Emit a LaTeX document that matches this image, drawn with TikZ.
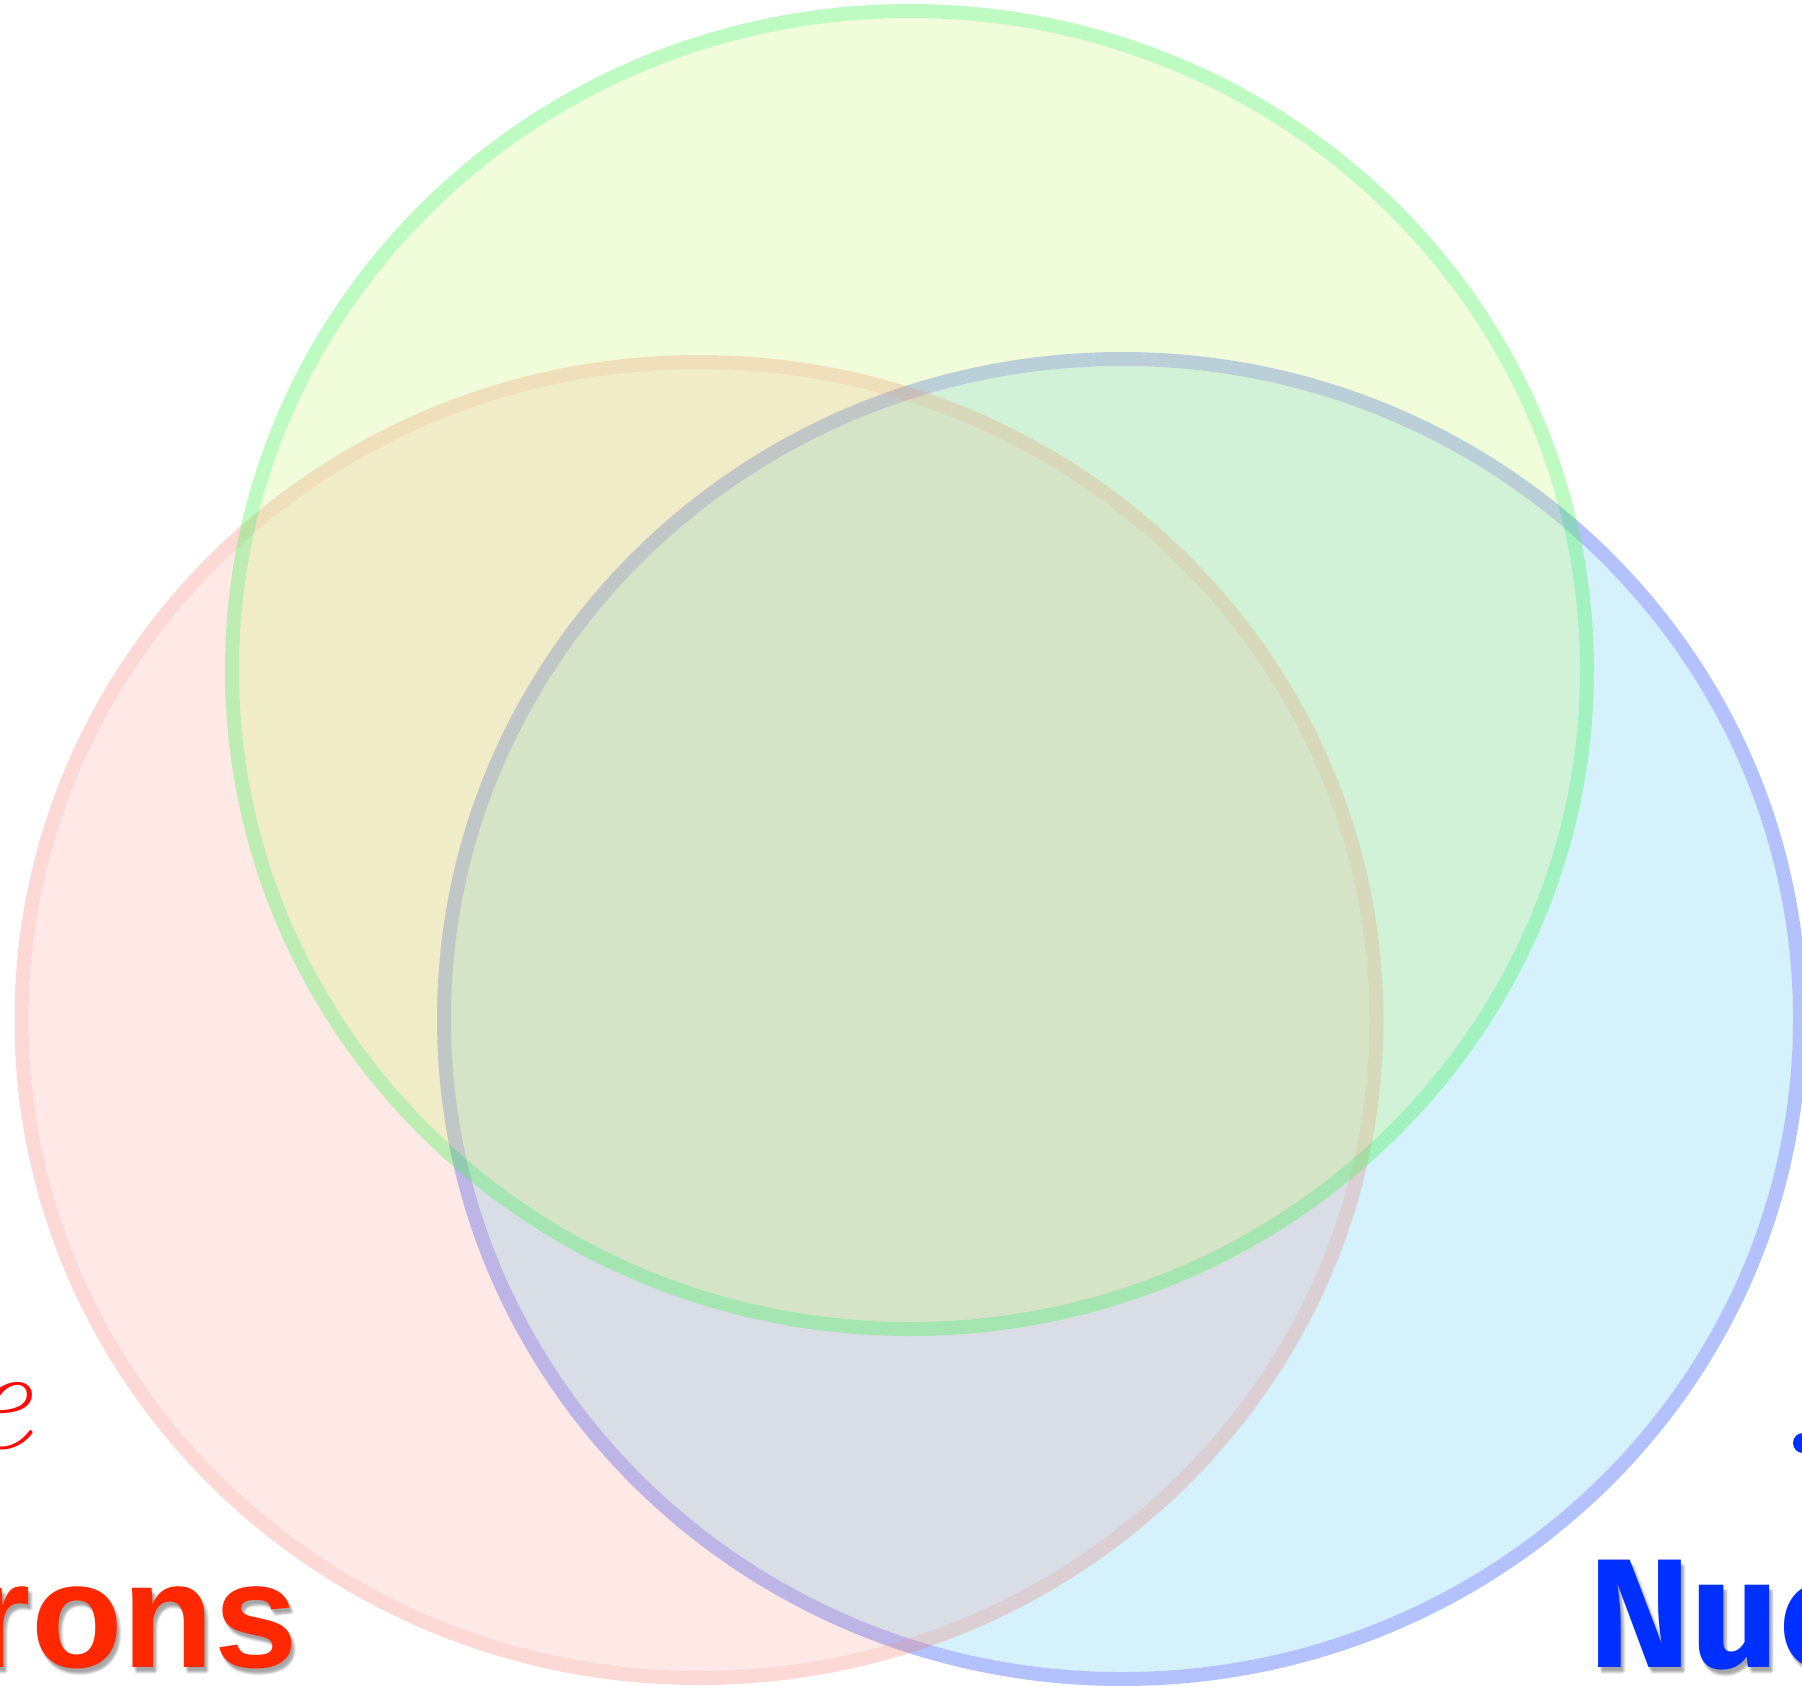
\documentclass[tikz,border=0pt]{standalone}
\usepackage{fontspec}
\newfontfamily\lsans{Liberation Sans}
\newfontfamily\fsans{Fira Sans}
\definecolor{gfill}{RGB}{205,245,120}
\definecolor{rfill}{RGB}{250,110,100}
\definecolor{bfill}{RGB}{40,185,240}
\definecolor{gline}{RGB}{69,246,81}
\definecolor{rline}{RGB}{247,107,91}
\definecolor{bline}{RGB}{179,194,252}
\definecolor{redtxt}{RGB}{255,40,0}
\definecolor{bluetxt}{RGB}{0,48,255}
\definecolor{rede}{RGB}{255,10,10}
\tikzset{
  lbl/.style={inner sep=0pt, outer sep=0pt},
  shadowtxt/.style={lbl, text=black, text opacity=0.05},
}
\begin{document}
\begin{tikzpicture}[x=1pt,y=-1pt]
\useasboundingbox (0,0) rectangle (1802,1686);
\fill[white] (0,0) rectangle (1802,1686);
% blue circle (bottom layer)
\coordinate (bc) at (1122,1019);
\fill[bfill, fill opacity=0.2] (bc) ellipse [x radius=671, y radius=653];
\draw[bline, line width=14pt] (bc) ellipse [x radius=678, y radius=660];
% red circle
\coordinate (rc) at (699,1020);
\fill[rfill, fill opacity=0.15] (rc) ellipse [x radius=670.5, y radius=651];
\draw[rline, draw opacity=0.25, line width=14pt] (rc) ellipse [x radius=677.5, y radius=658];
% green circle (top layer)
\coordinate (gc) at (909.5,670);
\fill[gfill, fill opacity=0.27] (gc) ellipse [x radius=670.5, y radius=652];
\draw[gline, draw opacity=0.35, line width=14pt] (gc) ellipse [x radius=677.5, y radius=659];
% labels with soft shadow
\foreach \dx/\dy in {1/3,2/4,3/5,4/6,3/7,5/5,2/6,4/4}{
  \node[shadowtxt, anchor=base east] at (298+\dx,1667+\dy) {\lsans\bfseries\fontsize{150}{150}\selectfont rons};
  \node[shadowtxt, anchor=base west] at (1588+\dx,1667+\dy) {\fsans\bfseries\fontsize{155}{155}\selectfont Nuc};
}
\node[lbl, anchor=base east, text=redtxt] (rons) at (298,1667) {\lsans\bfseries\fontsize{150}{150}\selectfont rons};
\node[lbl, anchor=base west, text=bluetxt] (nuc) at (1588,1667) {\fsans\bfseries\fontsize{155}{155}\selectfont Nuc};
\node[lbl, anchor=base east, text=rede] (e) at (32,1448) {\fontsize{150}{150}\selectfont\itshape e};
\fill[bluetxt] (1803,1443) circle (10);
\end{tikzpicture}
\end{document}
